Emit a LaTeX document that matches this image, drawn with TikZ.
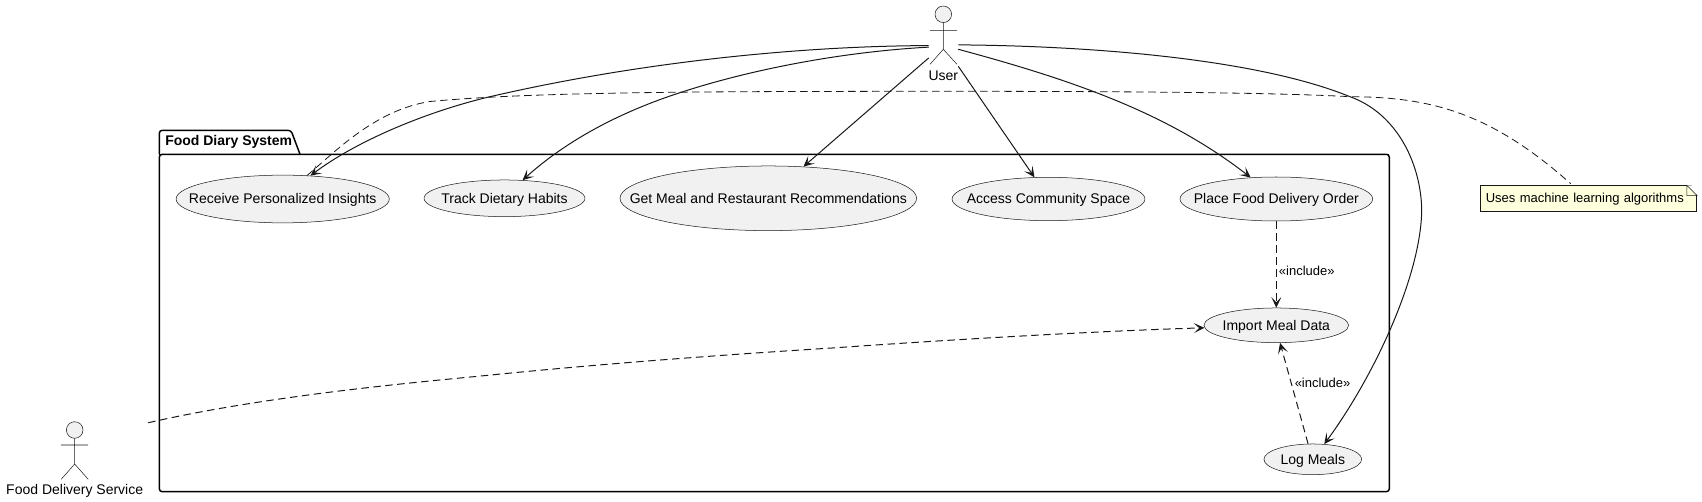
\documentclass[tikz,border=0pt]{standalone}
\usepackage{fontspec}
\setmainfont{Liberation Sans}
\usetikzlibrary{arrows.meta,shapes.geometric}
\definecolor{usefill}{HTML}{F1F1F1}
\definecolor{ink}{HTML}{181818}
\definecolor{notefill}{HTML}{FEFFDD}
\newcommand{\uctext}[1]{\raisebox{-3.75pt}[0pt][0pt]{\makebox[0pt]{#1}}}
\tikzset{
  x=0.75pt,y=-0.75pt,
  uc/.style={ellipse,draw=ink,line width=0.38pt,fill=usefill,inner sep=0pt,font=\fontsize{10.5pt}{12pt}\selectfont},
  figure/.style={rectangle,inner sep=0pt,draw=none},
  stick/.style={draw=ink,line width=0.38pt},
  txt/.style={inner sep=0pt,font=\fontsize{10.5pt}{12pt}\selectfont},
  lab/.style={inner sep=0pt,font=\fontsize{9.75pt}{12pt}\selectfont},
  opentip/.style={-{Stealth[length=8pt,width=7.5pt,inset=4pt]}},
  rel/.style={draw=ink,line width=0.75pt,opentip},
  dashrel/.style={rel,dash pattern=on 5.6pt off 3.4pt},
  notelink/.style={draw=ink,line width=0.6pt,dash pattern=on 5.6pt off 3.4pt},
  pkg/.style={draw=black,line width=1.1pt,line join=round},
}
\begin{document}
\begin{tikzpicture}
\useasboundingbox (0,0) rectangle (1702,502);
% package
\draw[pkg,rounded corners=2.2pt] (159.3,154.3) -- (159.3,130.3) -- (291,130.3) -- (300,154.3);
\draw[pkg,rounded corners=2.2pt] (159.3,154.3) rectangle (1389.3,491.7);
\draw[pkg] (159.3,154.3) -- (1389.3,154.3);
\node[txt,anchor=west,font=\fontsize{10.5pt}{12pt}\selectfont\bfseries] (pkgtitle) at (165,142.3) {Food Diary System};
% use cases
\node[uc,minimum width=159.9pt,minimum height=35.8pt] (receive) at (282.7,199) {\uctext{Receive Personalized Insights}};
\node[uc,minimum width=120.7pt,minimum height=27.5pt] (track) at (504.5,198.3) {\uctext{Track Dietary Habits}};
\node[uc,minimum width=222.5pt,minimum height=48.5pt] (meal) at (768.3,198.3) {\uctext{Get Meal and Restaurant Recommendations}};
\node[uc,minimum width=144.7pt,minimum height=32.5pt] (community) at (1048.5,199) {\uctext{Access Community Space}};
\node[uc,minimum width=144.5pt,minimum height=33pt] (order) at (1276.3,199) {\uctext{Place Food Delivery Order}};
\node[uc,minimum width=108.5pt,minimum height=26pt] (import) at (1276.3,325.3) {\uctext{Import Meal Data}};
\node[uc,minimum width=73.3pt,minimum height=23pt] (log) at (1312.8,459.3) {\uctext{Log Meals}};
% actors
\node[figure,minimum width=21.75pt,minimum height=48pt] (userfig) at (943.5,36) {};
\draw[stick,fill=usefill] (943.3,14.3) circle (8.3);
\draw[stick] (943.3,22.6) -- (943.3,49.3) (930,30.3) -- (957,30.3) (930,64.3) -- (943.3,49.3) -- (957,64.3);
\node[txt] (user) at (943.3,76) {User};
\node[figure,minimum width=109.5pt,minimum height=54pt] (foodfig) at (75,459) {};
\draw[stick,fill=usefill] (74.7,430) circle (8.3);
\draw[stick] (74.7,438.3) -- (74.7,464) (61.2,445) -- (88.2,445) (61.2,479.3) -- (74.7,464) -- (88.2,479.3);
\node[txt] (food) at (74.7,491) {Food Delivery Service};
% user relations
\draw[rel] (userfig.213.2) .. controls (800,46) and (640,62) .. (490,96.7) .. controls (425,112) and (355,142) .. (receive.40);
\draw[rel] (userfig.217.2) .. controls (840,52) and (750,70) .. (683,91.7) .. controls (635,107) and (575,133) .. (track.45);
\draw[rel] (userfig.236.6) -- (meal.42);
\draw[rel] (userfig.-64.9) -- (community.123);
\draw[rel] (userfig.-42.5) .. controls (1080,82) and (1170,115) .. (order.140.5);
\draw[rel] (userfig.-31.8) .. controls (1100,46) and (1260,60) .. (1350,96.7) .. controls (1398,114) and (1421,165) .. (1421.7,210) .. controls (1421,275) and (1375,375) .. (log.53.8);
% include relations
\draw[dashrel] (order.south) -- (import.north) node[pos=0.57,anchor=west,xshift=1.6pt,lab] (inc1) {«include»};
\draw[dashrel] (log.107) -- (import.-78) node[pos=0.6,anchor=west,xshift=2.25pt,lab] (inc2) {«include»};
\draw[dashrel] (foodfig.north east) .. controls (270,395) and (420,382) .. (491,375) .. controls (600,364) and (720,355) .. (832,348) .. controls (960,339) and (1100,331) .. (import.182);
% note
\node[rectangle,draw=ink,line width=0.38pt,fill=notefill,inner sep=0pt,minimum width=162.3pt,minimum height=19.5pt,font=\fontsize{9.75pt}{12pt}\selectfont,text width=154pt,align=left] (note) at (1588.5,198.7) {\raisebox{-0.6pt}{Uses machine learning algorithms}};
\fill[white] ([xshift=-7.6pt]note.north east) -- ([xshift=0.3pt,yshift=0.3pt]note.north east) -- ([yshift=-7.6pt,xshift=0.3pt]note.north east) -- cycle;
\draw[draw=ink,line width=0.38pt,fill=notefill] ([xshift=-7.6pt]note.north east) -- ([yshift=-7.6pt]note.north east) -- ([xshift=-7.6pt,yshift=-7.6pt]note.north east) -- cycle;
\draw[notelink,shorten >=2pt] (receive.44) .. controls (335,152) and (375,110) .. (430,101.5) .. controls (500,95) and (600,92) .. (800,91.5) .. controls (1000,91) and (1250,91) .. (1350,96.7) .. controls (1430,97) and (1490,112) .. (note.140);
\end{tikzpicture}
\end{document}
